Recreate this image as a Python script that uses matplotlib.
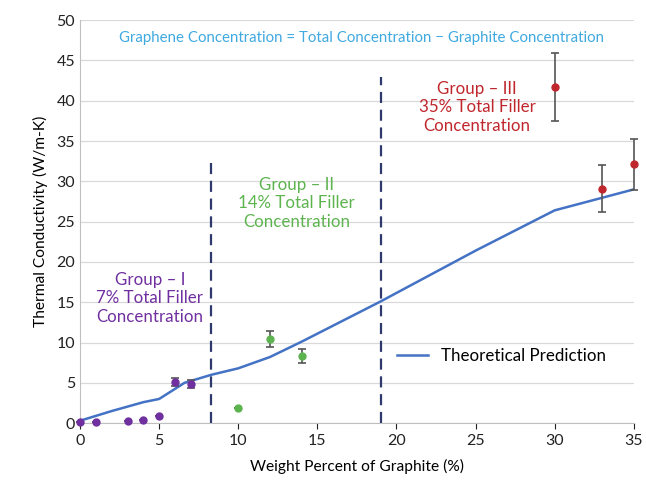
import matplotlib

matplotlib.use("Agg")

import matplotlib.pyplot as plt  # noqa: E402

# ---------- Data ----------

group1_x = [0, 1, 3, 4, 5, 6, 7]
group1_y = [0.1, 0.1, 0.3, 0.4, 0.9, 5.1, 4.9]
group1_err = [0, 0, 0, 0, 0, 0.5, 0.5]

group2_x = [10, 12, 14]
group2_y = [1.9, 10.4, 8.3]
group2_err = [0, 1.0, 0.9]

group3_x = [30, 33, 35]
group3_y = [41.7, 29.1, 32.1]
group3_err = [4.2, 2.9, 3.2]

theory_x = [0, 2, 4, 5, 6.6, 8.3, 10, 12, 14, 19, 25, 30, 35]
theory_y = [0.3, 1.5, 2.6, 3.0, 5.0, 6.0, 6.8, 8.2, 10.1, 15.1, 21.4, 26.4, 29.0]

divider_x = [8.3, 19]
divider_top = [33, 43]

PURPLE = "#7030A0"
GREEN = "#5DB44F"
RED = "#C0272D"
BLUE = "#4472C4"
NAVY = "#2E3A6E"

plt.rcParams["font.family"] = ["Lato", "DejaVu Sans"]

fig = plt.figure(figsize=(6.46, 4.92), dpi=100)
ax = fig.add_axes([0.124, 0.140, 0.857, 0.819])

ax.plot(theory_x, theory_y, color=BLUE, lw=1.8, label="Theoretical Prediction", zorder=3)

for xs, ys, es, c in [
    (group1_x, group1_y, group1_err, PURPLE),
    (group2_x, group2_y, group2_err, GREEN),
    (group3_x, group3_y, group3_err, RED),
]:
    eb = ax.errorbar(xs, ys, yerr=es, fmt="o", color=c, ms=5, ecolor="#555555",
                     elinewidth=1.2, capsize=3, capthick=1.2, zorder=4)
    for art in eb.get_children():
        art.set_clip_on(False)

for dx, top in zip(divider_x, divider_top):
    ax.plot([dx, dx], [0, top], color=NAVY, lw=1.6, ls=(0, (5, 3)), zorder=2)

ax.text(17.8, 47.8, "Graphene Concentration = Total Concentration \u2212 Graphite Concentration",
        ha="center", va="center", color="#3FA9E0", fontsize=10.8)
ax.text(4.4, 15.5, "Group \u2013 I\n7% Total Filler\nConcentration", ha="center", va="center",
        color=PURPLE, fontsize=12.2, linespacing=1.2)
ax.text(13.7, 27.3, "Group \u2013 II\n14% Total Filler\nConcentration", ha="center", va="center",
        color=GREEN, fontsize=12.2, linespacing=1.2)
ax.text(25.1, 39.2, "Group \u2013 III\n35% Total Filler\nConcentration", ha="center", va="center",
        color=RED, fontsize=12.2, linespacing=1.2)

ax.set_xlim(0, 35)
ax.set_ylim(0, 50)
ax.set_xticks(range(0, 36, 5))
ax.set_yticks(range(0, 51, 5))
ax.tick_params(axis="both", labelsize=11.5, colors="#222222", length=4)
ax.tick_params(axis="y", length=0)
ax.grid(axis="y", color="#D9D9D9", lw=0.9)
ax.set_axisbelow(True)
for s in ["top", "right"]:
    ax.spines[s].set_visible(False)
ax.spines["left"].set_color("#BFBFBF")
ax.spines["bottom"].set_color("#BFBFBF")

ax.set_xlabel("Weight Percent of Graphite (%)", fontsize=11.2, labelpad=8)
ax.set_ylabel("Thermal Conductivity (W/m-K)", fontsize=11.2, labelpad=6)

ax.legend(loc="center", bbox_to_anchor=(0.762, 0.166), frameon=False, fontsize=12.2,
          handlelength=1.8)

fig.savefig("out.png", dpi=100)
